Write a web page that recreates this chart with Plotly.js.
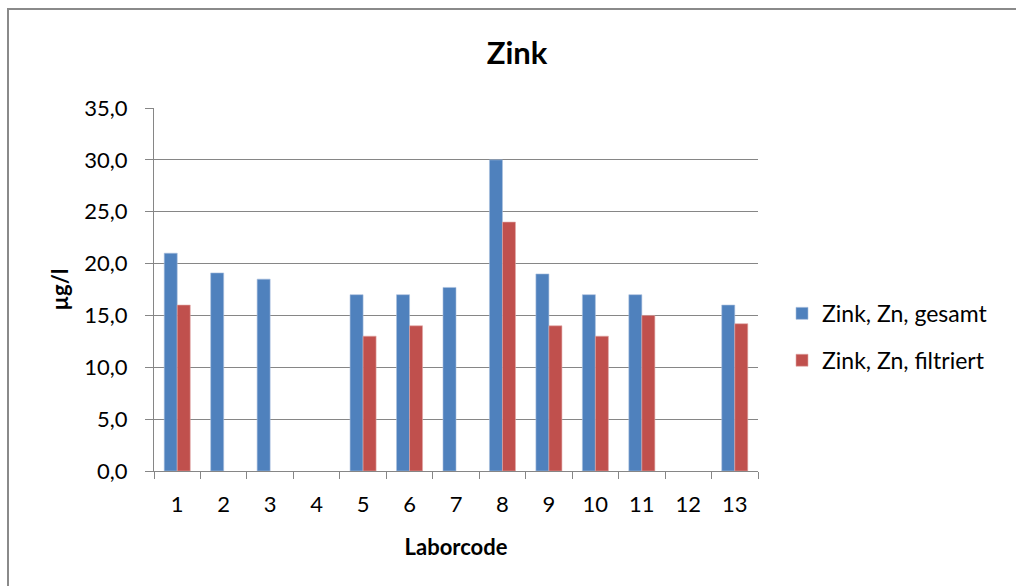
<!DOCTYPE html>
<html>
<head>
<meta charset="utf-8">
<script src="https://cdn.plot.ly/plotly-3.0.1.min.js"></script>
<style>
html,body{margin:0;padding:0;background:#fff;overflow:hidden;}
#wrap{position:relative;width:1016px;height:586px;overflow:hidden;}
#chart{width:1016px;height:586px;}
#frame{position:absolute;left:7px;top:8px;width:1009px;height:578px;box-sizing:border-box;
       border-left:2px solid #8a8a8a;border-top:2px solid #8a8a8a;pointer-events:none;}
</style>
</head>
<body>
<div id="wrap">
<div id="chart"></div>
<div id="frame"></div>
</div>
<script>
var categories = ["1","2","3","4","5","6","7","8","9","10","11","12","13"];
var gesamt    = [21.0, 19.1, 18.5, null, 17.0, 17.0, 17.7, 30.0, 19.0, 17.0, 17.0, null, 16.0];
var filtriert = [16.0, null, null, null, 13.0, 14.0, null, 24.0, 14.0, 13.0, 15.0, null, 14.2];
var yTicks = [0, 5, 10, 15, 20, 25, 30, 35];
var yTickLabels = ["0,0","5,0","10,0","15,0","20,0","25,0","30,0","35,0"];
var seriesNames = ["Zink, Zn, gesamt", "Zink, Zn, filtriert"];

var FONT = "Lato, 'Open Sans', sans-serif";
var GRAY = "#868686";

var traces = [
  {type:"bar", x:categories, y:gesamt, name:seriesNames[0], legendgroup:"a",
   marker:{color:"#4F81BD", line:{color:"#A9C0DE", width:0.6}}},
  {type:"bar", x:categories, y:filtriert, name:seriesNames[1], legendgroup:"b",
   marker:{color:"#C0504D", line:{color:"#E0A8A6", width:0.6}}}
];

var L = 154, R = 758, T = 108.3, B = 471;
var W = R - L, H = B - T;

var layout = {
  width:1016, height:586,
  paper_bgcolor:"#fff", plot_bgcolor:"#fff",
  margin:{l:L, r:1016-R, t:T, b:586-B, pad:0},
  font:{family:FONT, size:22, color:"#000"},
  title:{text:"<b>Zink</b>", x:517/1016, xref:"container", xanchor:"center",
         y:1-53/586, yref:"container", yanchor:"middle",
         font:{family:FONT, size:31, color:"#000"}},
  barmode:"group", bargap:0.44, bargroupgap:0,
  xaxis:{type:"category", tickson:"boundaries", ticks:"outside", ticklen:7,
         tickcolor:GRAY, tickwidth:1, showline:true, linecolor:GRAY, linewidth:1,
         showgrid:false, tickfont:{family:FONT, size:22, color:"#000"}, ticklabelstandoff:14,
         title:{text:"<b>Laborcode</b>", font:{family:FONT, size:22, color:"#000"}, standoff:23},
         fixedrange:true},
  yaxis:{range:[0,35], tickvals:yTicks, ticktext:yTickLabels, ticks:"outside",
         ticklen:8, tickcolor:GRAY, tickwidth:1, showline:true, linecolor:GRAY, linewidth:1,
         showgrid:true, gridcolor:GRAY, gridwidth:1, zeroline:false,
         tickfont:{family:FONT, size:22, color:"#000"}, ticklabelstandoff:13,
         title:{text:"<b>µg/l</b>", font:{family:FONT, size:22, color:"#000"}, standoff:9},
         fixedrange:true},
  legend:{x:(782-L)/W, xanchor:"left", y:(B-337)/H, yanchor:"middle",
          font:{family:FONT, size:23, color:"#000"}, traceorder:"grouped",
          tracegroupgap:14, itemwidth:30, bgcolor:"rgba(0,0,0,0)"},
  showlegend:true
};

Plotly.newPlot("chart", traces, layout, {displayModeBar:false, staticPlot:true});
</script>
</body>
</html>
